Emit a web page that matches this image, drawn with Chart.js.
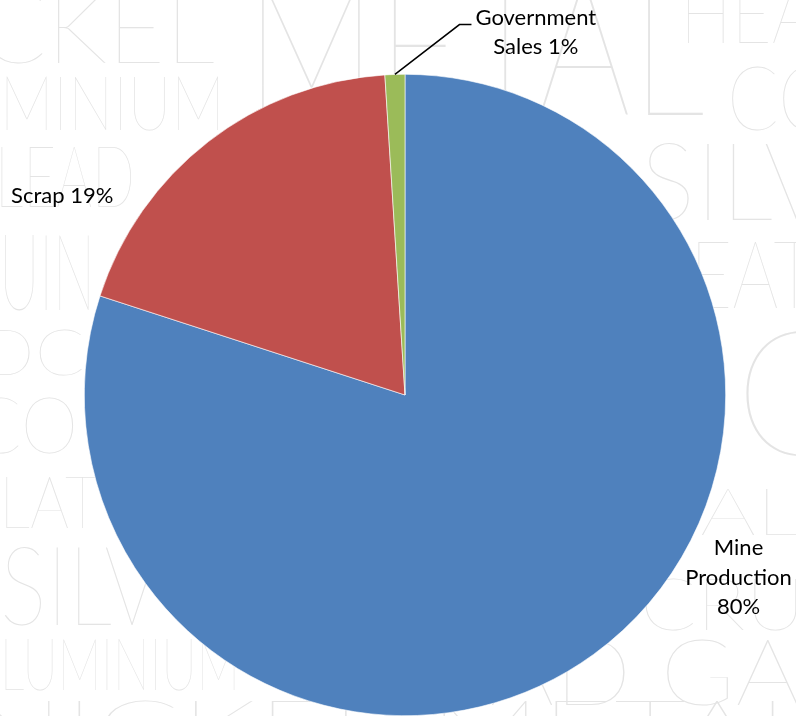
<!DOCTYPE html>
<html>
<head>
<meta charset="utf-8">
<script src="https://cdn.jsdelivr.net/npm/chart.js@4.4.1/dist/chart.umd.min.js"></script>
<style>
  html, body { margin: 0; padding: 0; background: #fff; }
  #wrap { width: 796px; height: 716px; position: relative; }
</style>
</head>
<body>
<div id="wrap"><canvas id="pieChart"></canvas></div>
<script>
// Silver supply by source (%)
const sources = ['Mine Production', 'Scrap', 'Government Sales'];
const shares = [80, 19, 1];
const sliceColors = ['#4F81BD', '#C0504D', '#9BBB59'];

// Background lettering: [text, left, right, baseline, capHeight]
const backdrop = [
    ['NICKEL', -120, 215, 63, 72],
    ['METAL', 245, 705, 115, 140],
    ['HEAT', 680, 850, 43, 60],
    ['ALUMINIUM', -110, 225, 130, 55],
    ['COP', 727, 880, 130, 65],
    ['LEAD', -5, 135, 207, 62],
    ['SILV', 640, 830, 220, 78],
    ['QUIN', -45, 95, 310, 77],
    ['EAT', 690, 815, 308, 68],
    ['GOLDC', -170, 85, 375, 46],
    ['C', 735, 850, 455, 125],
    ['ECO', -70, 78, 453, 56],
    ['PLAT', -35, 100, 528, 52],
    ['AL', 700, 800, 535, 47],
    ['SILV', 0, 160, 625, 80],
    ['CRU', 640, 805, 630, 52],
    ['LUMINIUM', 0, 240, 690, 52],
    ['LEAD GA', 380, 800, 705, 66],
    ['NICKEL METAL', -30, 820, 760, 60]
];

const backdropPlugin = {
    id: 'backdrop',
    beforeDraw(chart) {
        const ctx = chart.ctx;
        ctx.save();
        ctx.fillStyle = '#ffffff';
        ctx.fillRect(0, 0, chart.width, chart.height);
        ctx.fillStyle = '#e4e4e4';
        ctx.textBaseline = 'alphabetic';
        backdrop.forEach(([txt, x0, x1, base, cap]) => {
            const size = cap / 0.72;
            ctx.font = '100 ' + size + 'px Lato, "Open Sans", sans-serif';
            const w = ctx.measureText(txt).width;
            ctx.save();
            ctx.translate(x0, base);
            ctx.scale((x1 - x0) / w, 1);
            ctx.fillText(txt, 0, 0);
            ctx.restore();
        });
        ctx.restore();
    }
};

// Label offsets from the pie centre, in radius units
const labelSpots = [[1.04, 0.57], [-1.069, -0.62], [0.408, -1.131]];

function wrapText(ctx, text, maxW) {
    const words = text.split(' ');
    const lines = [];
    let cur = words[0];
    for (let i = 1; i < words.length; i++) {
        const t = cur + ' ' + words[i];
        if (ctx.measureText(t).width > maxW) { lines.push(cur); cur = words[i]; }
        else cur = t;
    }
    lines.push(cur);
    return lines;
}

const labelPlugin = {
    id: 'sliceLabels',
    afterDraw(chart) {
        const ctx = chart.ctx;
        const meta = chart.getDatasetMeta(0);
        const total = shares.reduce((a, b) => a + b, 0);
        ctx.save();
        ctx.font = '22px Lato, "Open Sans", sans-serif';
        ctx.fillStyle = '#000';
        ctx.textAlign = 'center';
        ctx.textBaseline = 'middle';
        const lh = 29.5;
        meta.data.forEach((arc, i) => {
            const { x, y, outerRadius, startAngle, endAngle } = arc.getProps(['x', 'y', 'outerRadius', 'startAngle', 'endAngle'], true);
            const pct = Math.round(shares[i] / total * 100);
            const lines = wrapText(ctx, sources[i] + ' ' + pct + '%', 130);
            const cx = x + labelSpots[i][0] * outerRadius;
            const cy = y + labelSpots[i][1] * outerRadius;
            const top = cy - (lines.length - 1) * lh / 2;
            lines.forEach((ln, k) => ctx.fillText(ln, cx, top + k * lh));

            // leader line for thin slices
            if (shares[i] / total < 0.05) {
                const mid = (startAngle + endAngle) / 2;
                const px = x + Math.cos(mid) * outerRadius;
                const py = y + Math.sin(mid) * outerRadius;
                const left = cx - Math.max(...lines.map(l => ctx.measureText(l).width)) / 2;
                const ey = top + 7;
                ctx.strokeStyle = '#000';
                ctx.lineWidth = 1.5;
                ctx.beginPath();
                ctx.moveTo(px, py);
                ctx.lineTo(left - 16, ey);
                ctx.lineTo(left - 4, ey);
                ctx.stroke();
            }
        });
        ctx.restore();
    }
};

let pieChart;

function initChart() {
    const el = document.getElementById('pieChart');
    if (pieChart) pieChart.destroy();
    pieChart = new Chart(el, {
        type: 'pie',
        data: {
            labels: sources,
            datasets: [{
                data: shares,
                backgroundColor: sliceColors,
                borderColor: '#ffffff',
                borderWidth: 0.6
            }]
        },
        options: {
            responsive: true,
            maintainAspectRatio: false,
            animation: false,
            layout: { padding: { top: 74, bottom: 0, left: 84, right: 70 } },
            plugins: {
                legend: { display: false },
                tooltip: { enabled: false }
            }
        },
        plugins: [backdropPlugin, labelPlugin]
    });
}

window.addEventListener('DOMContentLoaded', () => {
    initChart();
});
</script>
</body>
</html>
